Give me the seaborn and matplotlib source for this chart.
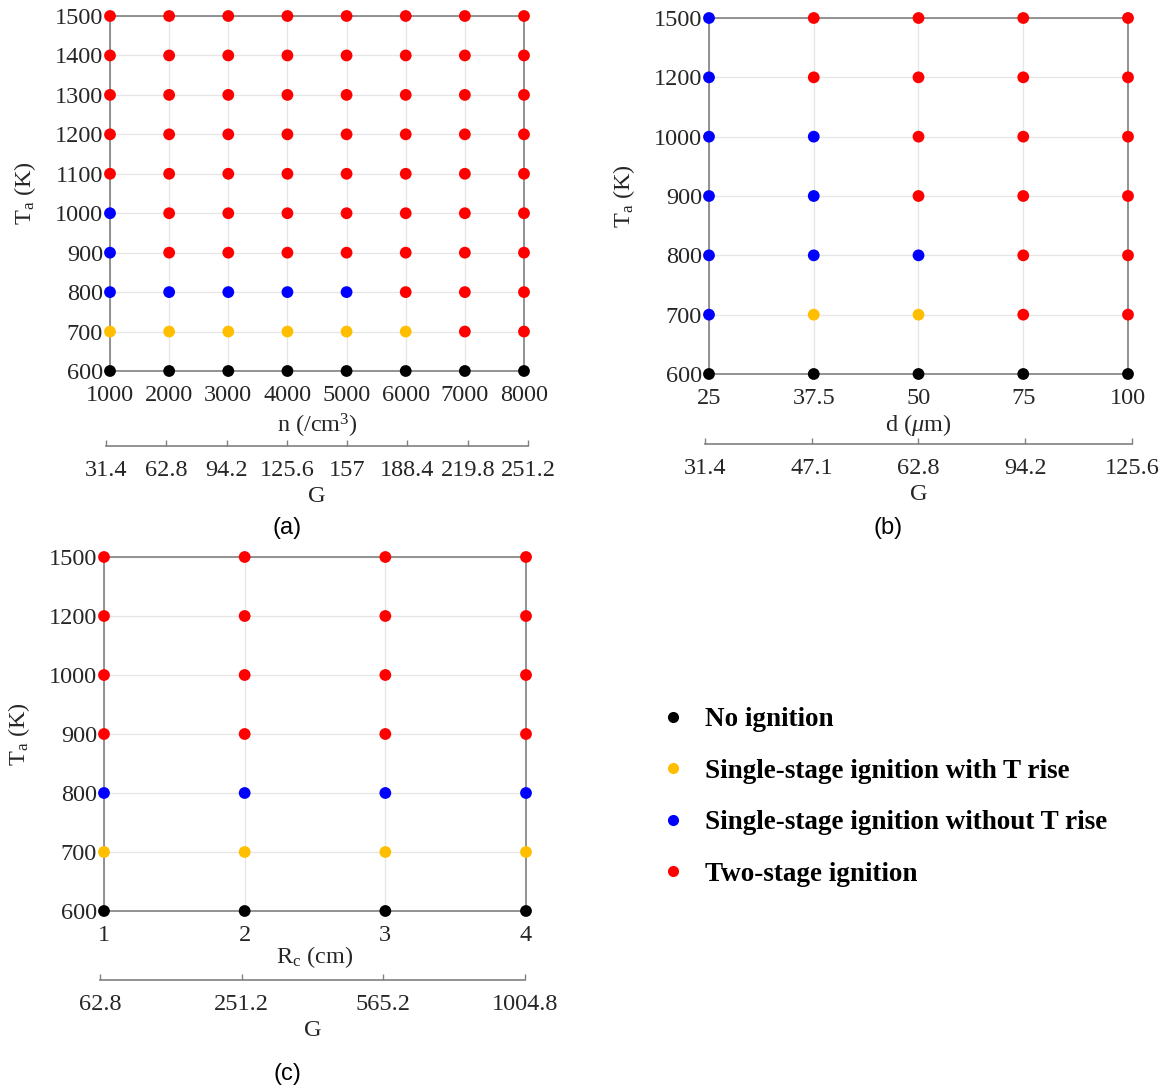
import matplotlib
matplotlib.use("Agg")
import matplotlib.pyplot as plt
from matplotlib.lines import Line2D
from matplotlib.font_manager import FontProperties
import seaborn as sns
import pandas as pd

sns.set_style("white")
plt.rcParams["font.family"] = ["Liberation Serif", "DejaVu Serif"]
plt.rcParams["mathtext.fontset"] = "custom"
plt.rcParams["mathtext.rm"] = "Liberation Serif"
plt.rcParams["mathtext.it"] = "Liberation Serif:italic"
plt.rcParams["mathtext.bf"] = "Liberation Serif:bold"

# ignition regimes
state_names = [
    "No ignition",
    "Single-stage ignition with T rise",
    "Single-stage ignition without T rise",
    "Two-stage ignition",
]
state_colors = ["#000000", "#FFBF00", "#0000FF", "#FF0000"]

# (a) number density sweep
T_a = [600, 700, 800, 900, 1000, 1100, 1200, 1300, 1400, 1500]
n_vals = ["1000", "2000", "3000", "4000", "5000", "6000", "7000", "8000"]
G_a = ["31.4", "62.8", "94.2", "125.6", "157", "188.4", "219.8", "251.2"]
state_a = [
    [0, 0, 0, 0, 0, 0, 0, 0],   # 600 K
    [1, 1, 1, 1, 1, 1, 3, 3],   # 700 K
    [2, 2, 2, 2, 2, 3, 3, 3],   # 800 K
    [2, 3, 3, 3, 3, 3, 3, 3],   # 900 K
    [2, 3, 3, 3, 3, 3, 3, 3],   # 1000 K
    [3, 3, 3, 3, 3, 3, 3, 3],   # 1100 K
    [3, 3, 3, 3, 3, 3, 3, 3],   # 1200 K
    [3, 3, 3, 3, 3, 3, 3, 3],   # 1300 K
    [3, 3, 3, 3, 3, 3, 3, 3],   # 1400 K
    [3, 3, 3, 3, 3, 3, 3, 3],   # 1500 K
]

# (b) droplet diameter sweep
T_b = [600, 700, 800, 900, 1000, 1200, 1500]
d_vals = ["25", "37.5", "50", "75", "100"]
G_b = ["31.4", "47.1", "62.8", "94.2", "125.6"]
state_b = [
    [0, 0, 0, 0, 0],   # 600 K
    [2, 1, 1, 3, 3],   # 700 K
    [2, 2, 2, 3, 3],   # 800 K
    [2, 2, 3, 3, 3],   # 900 K
    [2, 2, 3, 3, 3],   # 1000 K
    [2, 3, 3, 3, 3],   # 1200 K
    [2, 3, 3, 3, 3],   # 1500 K
]

# (c) cloud radius sweep
T_c = [600, 700, 800, 900, 1000, 1200, 1500]
Rc_vals = ["1", "2", "3", "4"]
G_c = ["62.8", "251.2", "565.2", "1004.8"]
state_c = [
    [0, 0, 0, 0],   # 600 K
    [1, 1, 1, 1],   # 700 K
    [2, 2, 2, 2],   # 800 K
    [3, 3, 3, 3],   # 900 K
    [3, 3, 3, 3],   # 1000 K
    [3, 3, 3, 3],   # 1200 K
    [3, 3, 3, 3],   # 1500 K
]

FIG_W, FIG_H = 1164, 1086
fig = plt.figure(figsize=(FIG_W / 100, FIG_H / 100), dpi=100)

TICK_FS = 17.5
TXT_C = "#262626"
SPINE_C = "#808080"
palette = dict(zip(state_names, state_colors))


def px_box(x0, x1, y_top, y_bot):
    return [x0 / FIG_W, 1 - y_bot / FIG_H, (x1 - x0) / FIG_W, (y_bot - y_top) / FIG_H]


def draw_panel(box, temps, xlabels, states, xlabel, xlabelpad, g_box, g_labels,
               tag, tag_xy):
    ax = fig.add_axes(px_box(*box))
    rows = []
    for i, T in enumerate(temps):
        for j, _ in enumerate(xlabels):
            rows.append({"xi": j, "yi": i, "state": state_names[states[i][j]]})
    df = pd.DataFrame(rows)
    sns.scatterplot(data=df, x="xi", y="yi", hue="state", palette=palette,
                    s=72, edgecolor="none", legend=False, ax=ax,
                    clip_on=False, zorder=5)
    ax.set_xlim(0, len(xlabels) - 1)
    ax.set_ylim(0, len(temps) - 1)
    ax.set_xticks(range(len(xlabels)))
    ax.set_xticklabels(xlabels)
    ax.set_yticks(range(len(temps)))
    ax.set_yticklabels([str(t) for t in temps])
    ax.tick_params(length=0, labelsize=TICK_FS, colors=TXT_C)
    ax.tick_params(axis="x", pad=10)
    ax.tick_params(axis="y", pad=5)
    ax.grid(True, color="#E6E6E6", linewidth=0.9)
    for sp in ax.spines.values():
        sp.set_visible(True)
        sp.set_color(SPINE_C)
        sp.set_linewidth(1.2)
    ax.set_xlabel(xlabel, fontsize=TICK_FS, labelpad=xlabelpad, color=TXT_C)
    ax.set_ylabel(r"T$_\mathrm{a}$ (K)", fontsize=TICK_FS, labelpad=12, color=TXT_C)

    # secondary G scale below the main axis
    x0, x1, y_line = g_box
    gx = fig.add_axes([x0 / FIG_W, 1 - y_line / FIG_H, (x1 - x0) / FIG_W, 0.0001])
    gx.set_facecolor("none")
    for k in ("top", "left", "right"):
        gx.spines[k].set_visible(False)
    gx.spines["bottom"].set_visible(True)
    gx.spines["bottom"].set_color(SPINE_C)
    gx.spines["bottom"].set_linewidth(1.2)
    gx.set_xlim(0, len(g_labels) - 1)
    gx.set_xticks(range(len(g_labels)))
    gx.set_xticklabels(g_labels)
    gx.set_yticks([])
    gx.tick_params(axis="x", bottom=True, direction="in", length=4, width=1.0,
                   color=SPINE_C, labelsize=TICK_FS, pad=10, labelcolor=TXT_C)
    gx.set_xlabel("G", fontsize=TICK_FS, labelpad=4, color=TXT_C)

    fig.text(tag_xy[0] / FIG_W, 1 - tag_xy[1] / FIG_H, tag, ha="center", va="center",
             fontsize=17, family=["Liberation Sans", "DejaVu Sans"], color="#000000")
    return ax


draw_panel((110, 524, 16, 371), T_a, n_vals, state_a, r"n (/cm$^3$)", 4,
           (106, 528, 446), G_a, "(a)", (287, 528))
draw_panel((709, 1128, 18, 374), T_b, d_vals, state_b, r"d ($\mu$m)", 2,
           (705, 1132, 444), G_b, "(b)", (888, 528))
draw_panel((104, 526, 557, 911), T_c, Rc_vals, state_c, r"R$_\mathrm{c}$ (cm)", -1,
           (100, 525, 980), G_c, "(c)", (287, 1074))

handles = [Line2D([0], [0], marker="o", linestyle="none", markersize=8,
                  markerfacecolor=c, markeredgecolor="none") for c in state_colors]
LEG_FS = 19.5
leg_px = LEG_FS * 100 / 72
fig.legend(handles, state_names, loc="upper left",
           bbox_to_anchor=(673 / FIG_W - 0.5 * leg_px / FIG_W, 1 - 707 / FIG_H),
           frameon=False, borderaxespad=0, borderpad=0, handlelength=1.0,
           handletextpad=(705 - 673 - 0.5 * leg_px) / leg_px, labelspacing=0.98,
           labelcolor="#000000",
           prop=FontProperties(family="Liberation Serif", weight="bold", size=LEG_FS))

fig.savefig("out.png", dpi=100)
